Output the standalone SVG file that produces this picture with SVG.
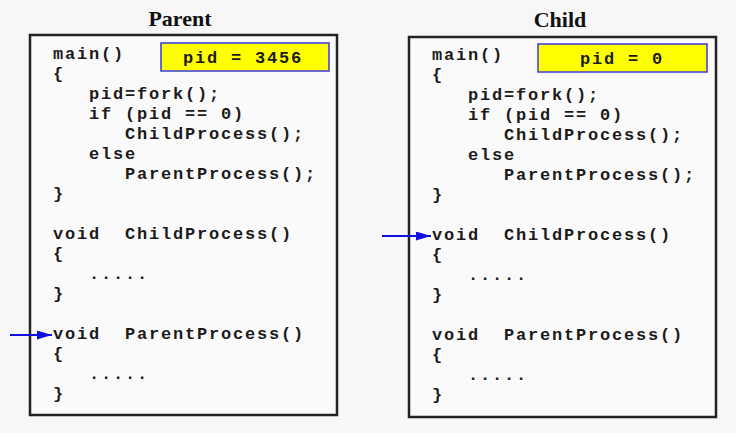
<svg xmlns="http://www.w3.org/2000/svg" width="736" height="433" viewBox="0 0 736 433">
<style>
.title{font-family:"Liberation Serif","Times New Roman",serif;font-weight:bold;font-size:22px;fill:#111;text-anchor:middle}
.code{font-family:"Liberation Mono","Courier New",monospace;font-weight:bold;font-size:17px;letter-spacing:1.8px;fill:#1a1a1a;white-space:pre}
.box{fill:#fafafa;stroke:#222;stroke-width:2.5}
.pid{fill:#ffff00;stroke:#3a3adf;stroke-width:1.5}
.arrow{stroke:#1010e0;stroke-width:1.8;fill:none}
</style>
<defs>
<marker id="ah" markerWidth="15" markerHeight="9" refX="15" refY="4.5" orient="auto" markerUnits="userSpaceOnUse">
<path d="M0,0 L15,4.5 L0,9 z" fill="#1010e0"/>
</marker>
</defs>
<rect width="736" height="433" fill="#f7f7f7"/>
<g id="parent">
<text class="title" x="180" y="26">Parent</text>
<rect class="box" x="30" y="35" width="307" height="380"/>
<rect class="pid" x="161" y="43" width="168" height="28"/>
<text class="code" x="183" y="63">pid = 3456</text>
<text class="code" x="53" y="59" xml:space="preserve"><tspan x="53" y="59">main()</tspan><tspan x="53" y="79">{</tspan><tspan x="89" y="99">pid=fork();</tspan><tspan x="89" y="119">if (pid == 0)</tspan><tspan x="125" y="139">ChildProcess();</tspan><tspan x="89" y="159">else</tspan><tspan x="125" y="179">ParentProcess();</tspan><tspan x="53" y="199">}</tspan><tspan x="53" y="239">void  ChildProcess()</tspan><tspan x="53" y="259">{</tspan><tspan x="89" y="279">.....</tspan><tspan x="53" y="299">}</tspan><tspan x="53" y="339">void  ParentProcess()</tspan><tspan x="53" y="359">{</tspan><tspan x="89" y="379">.....</tspan><tspan x="53" y="399">}</tspan></text>
</g>
<g id="child">
<text class="title" x="560" y="27">Child</text>
<rect class="box" x="409" y="37" width="307" height="380"/>
<rect class="pid" x="538" y="44" width="169" height="28"/>
<text class="code" x="580" y="64">pid = 0</text>
<text class="code" x="432" y="60" xml:space="preserve"><tspan x="432" y="60">main()</tspan><tspan x="432" y="80">{</tspan><tspan x="468" y="100">pid=fork();</tspan><tspan x="468" y="120">if (pid == 0)</tspan><tspan x="504" y="140">ChildProcess();</tspan><tspan x="468" y="160">else</tspan><tspan x="504" y="180">ParentProcess();</tspan><tspan x="432" y="200">}</tspan><tspan x="432" y="240">void  ChildProcess()</tspan><tspan x="432" y="260">{</tspan><tspan x="468" y="280">.....</tspan><tspan x="432" y="300">}</tspan><tspan x="432" y="340">void  ParentProcess()</tspan><tspan x="432" y="360">{</tspan><tspan x="468" y="380">.....</tspan><tspan x="432" y="400">}</tspan></text>
</g>
<g id="connectors">
<line class="arrow" x1="10" y1="335" x2="52" y2="335" marker-end="url(#ah)"/>
<line class="arrow" x1="382" y1="236" x2="431" y2="236" marker-end="url(#ah)"/>
</g>
</svg>
